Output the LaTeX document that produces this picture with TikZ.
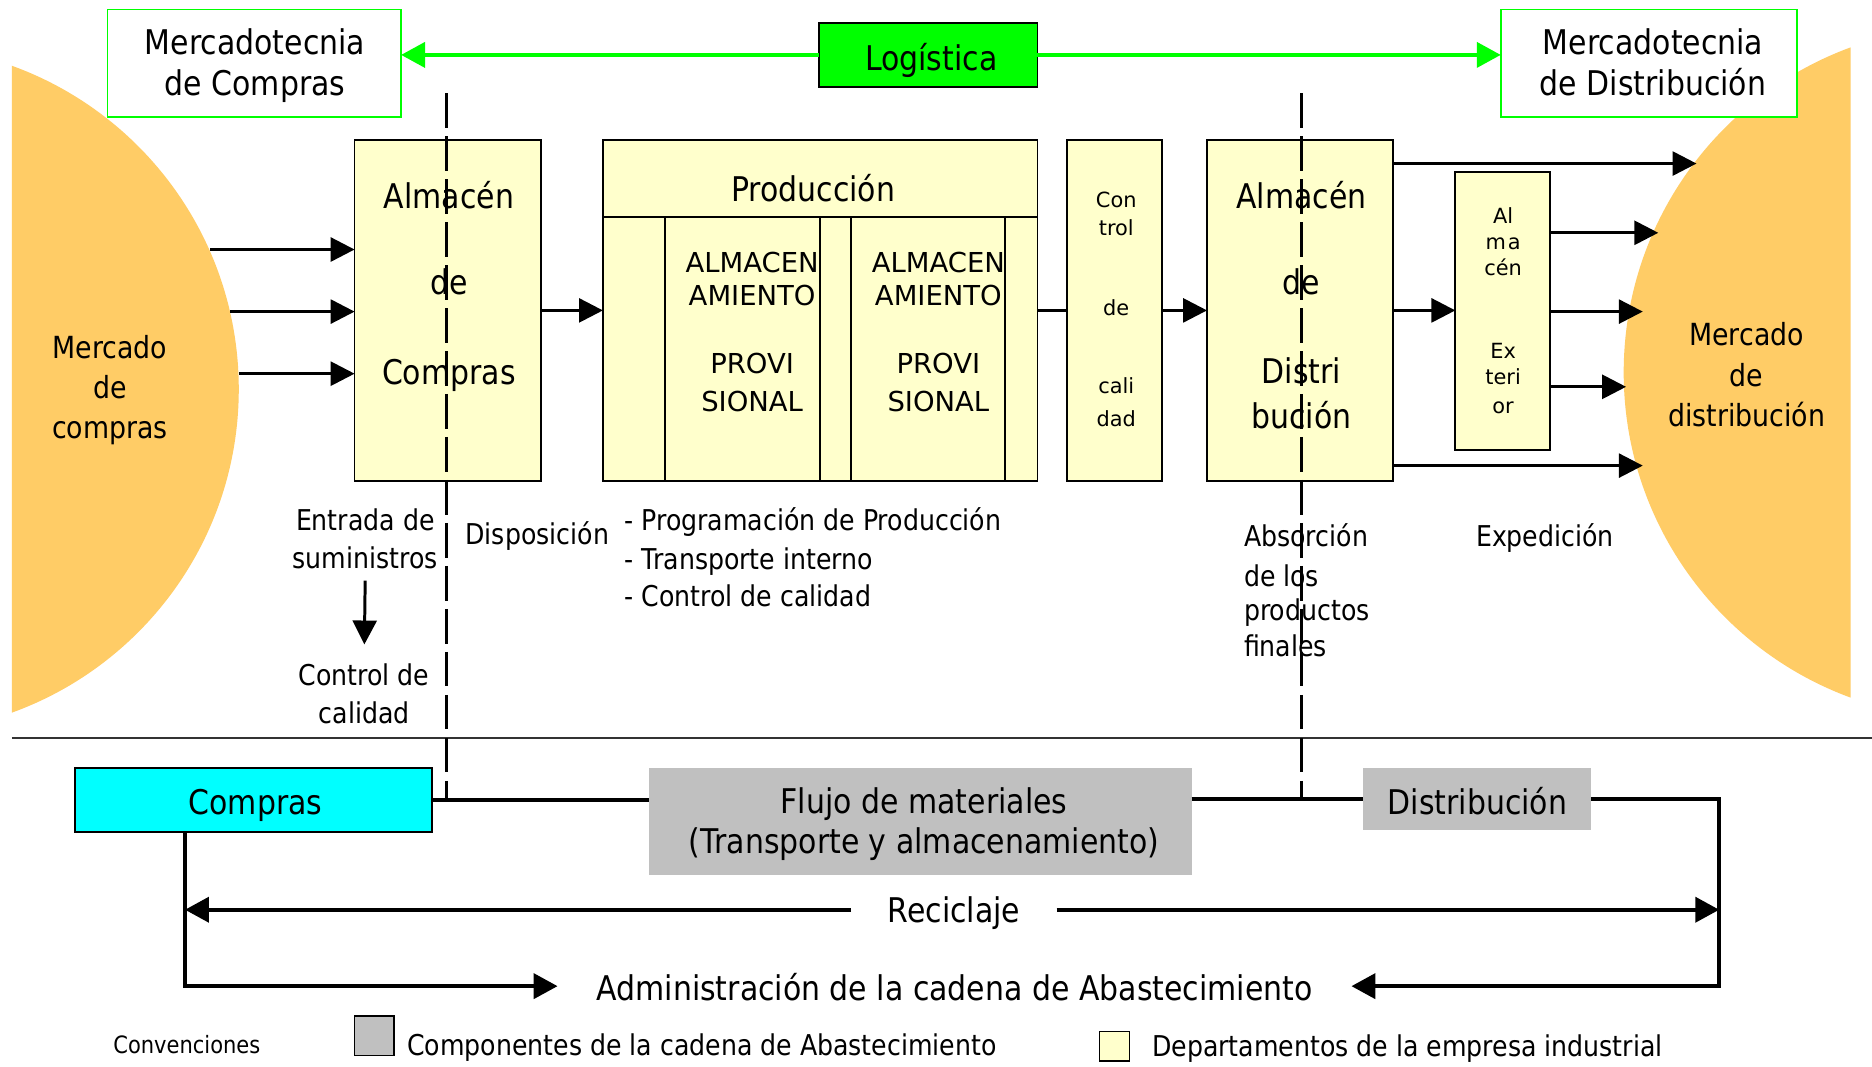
\documentclass[tikz,border=0pt]{standalone}
\usepackage{fontspec}
\setmainfont[FakeStretch=0.88]{DejaVu Sans}
\newfontfamily\plainfont{DejaVu Sans}
\usetikzlibrary{arrows.meta}
\definecolor{mktorange}{RGB}{255,204,102}
\definecolor{deptyellow}{RGB}{255,255,204}
\definecolor{compgray}{RGB}{192,192,192}
\definecolor{brightgreen}{RGB}{0,255,0}
\definecolor{brightcyan}{RGB}{0,255,255}
\begin{document}
\begin{tikzpicture}[x=1pt,y=-1pt,
  every node/.style={inner sep=0pt, outer sep=0pt},
  rect/.style={anchor=north west, line width=1.5pt},
  dept/.style={rect, draw=black, fill=deptyellow},
  mkt/.style={rect, draw=brightgreen, fill=white},
  comp/.style={rect, fill=compgray},
  big/.style={font=\fontsize{28.5}{34}\selectfont, anchor=base},
  lab/.style={font=\fontsize{24}{28}\selectfont, anchor=base},
  labw/.style={lab, anchor=base west},
  mkttxt/.style={font=\fontsize{25.5}{30}\selectfont, anchor=base},
  caps/.style={font=\plainfont\fontsize{23}{27}\selectfont, anchor=base},
  small/.style={font=\plainfont\fontsize{17.5}{21}\selectfont, anchor=base},
  flow/.style={line width=2.5pt, -{Triangle[length=20pt,width=20pt]}},
  link/.style={line width=2.5pt},
  chain/.style={line width=3pt},
  chainarrow/.style={chain, -{Triangle[length=20pt,width=21pt]}},
  greenarrow/.style={draw=brightgreen, line width=3pt, -{Triangle[length=20pt,width=21pt]}},
  boundary/.style={line width=3pt, dash pattern=on 29pt off 7pt},
]
\useasboundingbox (0,0) rectangle (1568,893);
\fill[white] (0,0) rectangle (1568,893);

% markets
\begin{scope}
  \clip (10,0) rectangle (1550,893);
  \fill[mktorange] (-88,326) circle[radius=288pt];
  \fill[mktorange] (1650,312) circle[radius=290pt];
\end{scope}
\foreach \t/\yy [count=\i] in {Mercado/300, de/334, compras/367}
  \node[mkttxt] (mcT\i) at (92,\yy) {\t};
\foreach \t/\yy [count=\i] in {Mercado/289, de/324, distribución/357.5}
  \node[mkttxt] (mdT\i) at (1463,\yy) {\t};

% marketing and logistics
\node[mkt, minimum width=246pt, minimum height=90pt] (mcomp) at (90,8) {};
\node[mkt, minimum width=248pt, minimum height=90pt] (mdist) at (1257,8) {};
\node[rect, draw=black, fill=brightgreen, minimum width=183pt, minimum height=54pt] (logi) at (686,19) {};
\node[big] (mcompT1) at (213.6,46) {Mercadotecnia};
\node[big] (mcompT2) at (213.6,80) {de Compras};
\node[big] (mdistT1) at (1384.6,46) {Mercadotecnia};
\node[big] (mdistT2) at (1384.6,80) {de Distribución};
\node[big] (logiT) at (780,59) {Logística};
\draw[greenarrow] (logi.west) -- (logi.west -| mcomp.east);
\draw[greenarrow] (logi.east) -- (logi.east -| mdist.west);

% departments
\node[dept, minimum width=156pt, minimum height=286pt] (alc) at (297,117) {};
\node[dept, minimum width=364pt, minimum height=286pt] (prod) at (505,117) {};
\node[dept, minimum width=79pt, minimum height=286pt] (ctrl) at (894,117) {};
\node[dept, minimum width=156pt, minimum height=286pt] (ald) at (1011,117) {};
\node[dept, minimum width=79pt, minimum height=233pt] (ext) at (1219,144) {};
\draw[line width=1.5pt] (prod.west |- 0,182) -- (prod.east |- 0,182);
\foreach \xx in {557,687,713,842}
  \draw[line width=1.5pt] (\xx,182) -- (\xx,403);

\foreach \t/\yy [count=\i] in {Almacén/175, de/247, Compras/322}
  \node[big] (alcT\i) at (376,\yy) {\t};
\node[big] (prodT) at (681,169) {Producción};
\foreach \t/\yy [count=\i] in {ALMACEN/228, AMIENTO/255.5, PROVI/313, SIONAL/345}{
  \node[caps] (pa\i) at (630,\yy) {\t};
  \node[caps] (pb\i) at (786,\yy) {\t};
}
\foreach \t/\yy [count=\i] in {Con/174, trol/197, de/264, cali/330, dad/357}
  \node[small] (ctrlT\i) at (935,\yy) {\t};
\foreach \t/\yy [count=\i] in {Almacén/175, de/247, Distri/321, bución/359}
  \node[big] (aldT\i) at (1090,\yy) {\t};
\foreach \t/\yy [count=\i] in {Al/187, m\kern1.5pt a/209, cén/231, Ex/300, teri/322, or/346}
  \node[small] (extT\i) at (1259,\yy) {\t};

% material flow through the plant
\coordinate (in1) at (176,209);
\coordinate (in2) at (193,261);
\coordinate (in3) at (200,313);
\foreach \c in {in1,in2,in3}
  \draw[flow] (\c) -- (\c -| alc.west);
\draw[flow] (alc.east) -- (alc.east -| prod.west);
\draw[link] (prod.east) -- (prod.east -| ctrl.west);
\draw[flow] (ctrl.east) -- (ctrl.east -| ald.west);
\draw[flow] (ald.east) -- (ald.east -| ext.west);
\coordinate (out1) at (1421,137);
\coordinate (out2) at (1389,195);
\coordinate (out3) at (1376,261);
\coordinate (out4) at (1362,324);
\coordinate (out5) at (1376,390);
\draw[flow] (ald.east |- out1) -- (out1);
\draw[flow] (ext.east |- out2) -- (out2);
\draw[flow] (ext.east |- out3) -- (out3);
\draw[flow] (ext.east |- out4) -- (out4);
\draw[flow] (ald.east |- out5) -- (out5);

% stage descriptions
\node[lab] (ent1) at (306,444) {Entrada de};
\node[lab] (ent2) at (306,476) {suministros};
\node[lab] (cal1) at (305,574) {Control de};
\node[lab] (cal2) at (305,606) {calidad};
\draw[flow, shorten <=10pt, shorten >=16pt] (ent2.south) -- (cal1.north);
\node[lab] (disp) at (450,456) {Disposición};
\node[labw] (pr1) at (523,444) {- Programación de Producción};
\node[labw] (pr2) at (523,477) {- Transporte interno};
\node[labw] (pr3) at (523,508) {- Control de calidad};
\foreach \t/\yy [count=\i] in {Absorción/458, de los/491, productos/520, finales/549.6}
  \node[labw] (abs\i) at (1042,\yy) {\t};
\node[lab] (exped) at (1294,458) {Expedición};

% boundaries
\draw[line width=1.5pt, black!80] (10,618) -- (1568,618);
\draw[boundary] (374,78) -- (374,669);
\draw[boundary] (1090,78) -- (1090,669);

% supply chain components
\node[rect, draw=black, fill=brightcyan, minimum width=299pt, minimum height=54pt] (compras) at (63,643) {};
\node[comp, minimum width=454pt, minimum height=90pt] (flujo) at (544,643) {};
\node[comp, minimum width=191pt, minimum height=52pt] (distrib) at (1142,643) {};
\node[big] (comprasT) at (214,682.6) {Compras};
\node[big] (flujoT1) at (774,681) {Flujo de materiales};
\node[big] (flujoT2) at (774,715) {(Transporte y almacenamiento)};
\node[big] (distribT) at (1237.5,682.6) {Distribución};
\node[big, minimum width=172pt] (recic) at (799,773) {Reciclaje};
\node[big, minimum width=665pt] (admin) at (799.5,838) {Administración de la cadena de Abastecimiento};

\coordinate (cturn) at (155,826);
\coordinate (dturn) at (1440,669);
\coordinate (dcorner) at (1440,826);
\coordinate (rline) at (0,762);
\draw[chain] (compras.east) -- (compras.east -| flujo.west);
\draw[chain] (flujo.east |- distrib.west) -- (distrib.west);
\draw[chainarrow] (distrib.east) -- (dturn) -- (dcorner) -- (dcorner -| admin.east);
\draw[chainarrow] (compras.south -| cturn) -- (cturn) -- (cturn -| admin.west);
\draw[chainarrow] (recic.west |- rline) -- (cturn |- rline);
\draw[chainarrow] (recic.east |- rline) -- (dturn |- rline);

% legend
\node[font=\fontsize{20}{24}\selectfont, anchor=base] (conv) at (156.5,882) {Convenciones};
\node[rect, draw=black, fill=compgray, minimum width=33pt, minimum height=33pt] (leg1) at (297,851) {};
\node[labw] (leg1T) at (341,884.5) {Componentes de la cadena de Abastecimiento};
\node[rect, draw=black, fill=deptyellow, minimum width=25pt, minimum height=25pt] (leg2) at (921,864) {};
\node[labw] (leg2T) at (965,885) {Departamentos de la empresa industrial};
\end{tikzpicture}
\end{document}
